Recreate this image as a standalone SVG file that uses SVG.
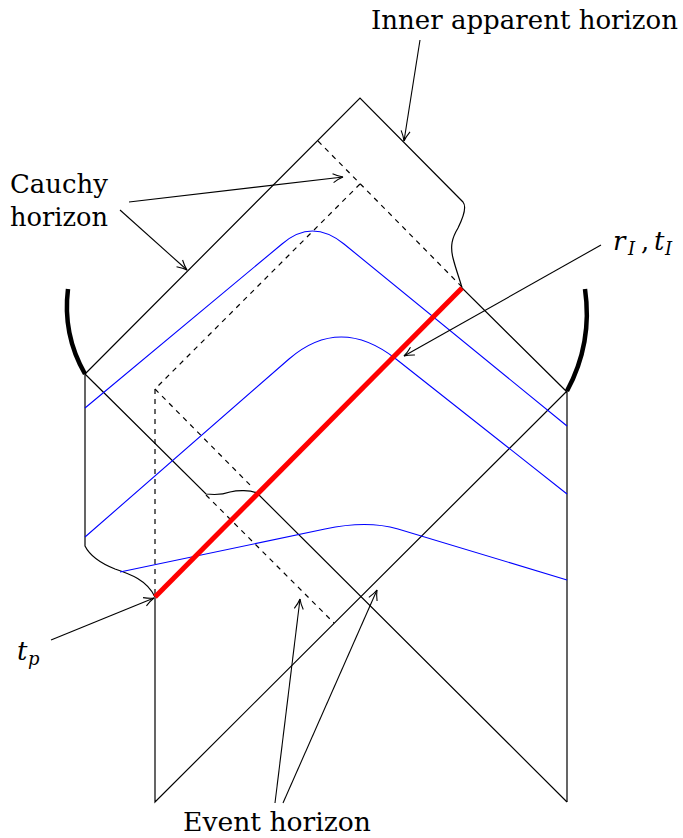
<svg xmlns="http://www.w3.org/2000/svg" width="683" height="838" viewBox="0 0 683 838">
<style>
.s{fill:none;stroke:#000;stroke-width:1.2}
.d{fill:none;stroke:#000;stroke-width:1.2;stroke-dasharray:5 5}
.b{fill:none;stroke:#0000ff;stroke-width:1.1}
.r{fill:none;stroke:#ff0000;stroke-width:5}
.k{fill:none;stroke:#000;stroke-width:4.5}
.a{fill:none;stroke:#000;stroke-width:1.1;marker-end:url(#ah)}
.t{font-family:'DejaVu Serif',serif;font-size:26px;fill:#000}
.i{font-style:italic}
</style>
<defs>
<marker id="ah" markerUnits="userSpaceOnUse" markerWidth="14" markerHeight="12" viewBox="-11 -6 13 12" refX="0" refY="0" orient="auto">
<path d="M-10,-4.5 Q-4,-1 0,0 Q-4,1 -10,4.5" fill="none" stroke="#000" stroke-width="1.1"/>
</marker>
</defs>
<rect width="683" height="838" fill="#fff"/>
<g id="diagram">
<g id="boundaries">
<path class="s" d="M85,374 L360,98 L463,202 C467,207 463,218 458,228 C452,238 450,246 453,258 C456,270 460,280 462,288 L567,392"/>
<path class="s" d="M85,374 L85,546 C90,556 100,563 115,569 C130,574 147,580 155,597 L155,802 L567,391 L567,802"/>
<path class="s" d="M85,374 L206,494 C215,495 222,495 230,492 C238,490 250,490 257,493 L567,802"/>
</g>
<g id="dashed">
<path class="d" d="M318,141 L462,287"/>
<path class="d" d="M360,184 L155,389 L155,597"/>
<path class="d" d="M155,389 L253,488"/>
<path class="d" d="M206,495 L334,623"/>
</g>
<g id="blue-curves">
<path class="b" d="M85,408 L282,244 Q312,218 344,244 L567,426"/>
<path class="b" d="M85,537 L289,359 Q340,315 396,359 L567,494"/>
<path class="b" d="M120,572 L325,529 Q367,520 398,529 L567,580"/>
</g>
<g id="red-line">
<path class="r" d="M155,597 L462,288"/>
</g>
<g id="singularities">
<path class="k" d="M68,289 A137 137 0 0 0 85,374"/>
<path class="k" d="M585,289 A165 165 0 0 1 567,391"/>
</g>
</g>
<g id="connectors">
<path class="a" d="M420,40 L404,141"/>
<path class="a" d="M129,202 L343,177"/>
<path class="a" d="M120,210 L187,270"/>
<path class="a" d="M601,245 L404,356"/>
<path class="a" d="M51,640 L154,598"/>
<path class="a" d="M275,803 L300,599"/>
<path class="a" d="M283,803 L377,590"/>
</g>
<g id="labels">
<text class="t" x="371" y="29" textLength="307" lengthAdjust="spacingAndGlyphs">Inner apparent horizon</text>
<text class="t" x="10" y="193" textLength="98" lengthAdjust="spacingAndGlyphs">Cauchy</text>
<text class="t" x="10" y="226" textLength="98" lengthAdjust="spacingAndGlyphs">horizon</text>
<text class="t" y="250"><tspan class="i" x="613">r</tspan><tspan class="i" font-size="18" x="628" dy="5">I</tspan><tspan x="641" dy="-5">,</tspan><tspan class="i" x="654">t</tspan><tspan class="i" font-size="18" x="665" dy="5">I</tspan></text>
<text class="t" y="660"><tspan class="i" x="17">t</tspan><tspan class="i" font-size="18" x="28" dy="5">p</tspan></text>
<text class="t" x="183" y="831" textLength="188" lengthAdjust="spacingAndGlyphs">Event horizon</text>
</g>
</svg>
